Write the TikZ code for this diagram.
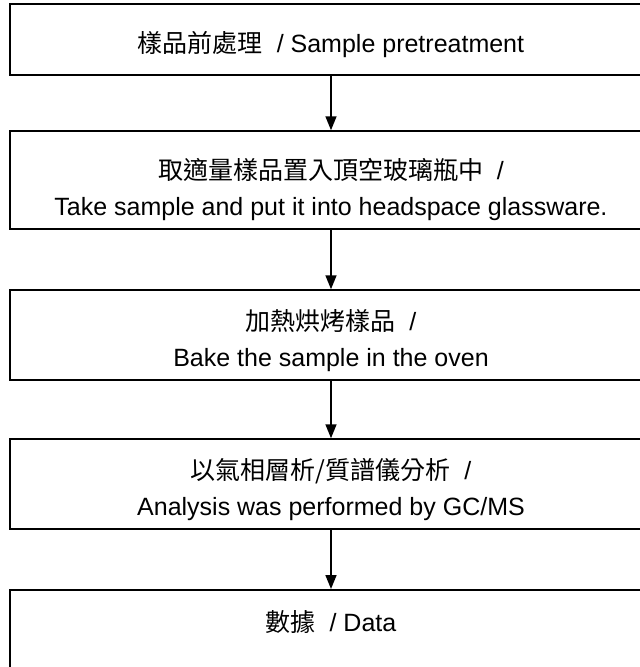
\documentclass[tikz,border=0pt]{standalone}
\usepackage{fontspec}
\setmainfont{Liberation Sans}
\newfontfamily\cjk{Noto Sans CJK TC}
\usetikzlibrary{arrows.meta,positioning}
\newcommand{\toppad}[1]{\rule{0pt}{#1pt}}

\begin{document}
\begin{tikzpicture}[x=1pt, y=-1pt, >={Triangle[length=14pt,width=11pt]},
  stepbox/.style={draw=black, line width=1.5pt, minimum width=642pt, align=center,
    font=\fontsize{25}{36}\selectfont},
  flow/.style={->, line width=1.6pt}]
   \path[use as bounding box, clip] (0,0) rectangle (640,667);

   %steps
   \node[stepbox, minimum height=71pt, text height=31pt, text depth=6pt] (pre) at (331,39.5) {{\cjk 樣品前處理}~~/ Sample pretreatment};
   \node[stepbox, minimum height=98pt] (vial) at (331,180) {\toppad{41}{\cjk 取適量樣品置入頂空玻璃瓶中}~~/\\Take sample and put it into headspace glassware.};
   \node[stepbox, minimum height=90pt] (bake) at (331,335) {\toppad{33}{\cjk 加熱烘烤樣品}~~/\\Bake the sample in the oven};
   \node[stepbox, minimum height=90pt] (gcms) at (331,484) {\toppad{33}{\cjk 以氣相層析/質譜儀分析}~~/\\Analysis was performed by GC/MS};
   \node[stepbox, anchor=north, inner ysep=26pt, text height=16pt, text depth=50pt] (data) at (331,589) {{\cjk 數據}~~/ Data};

   %arrows
   \path[flow]
     (pre) edge (vial)
     (vial) edge (bake)
     (bake) edge (gcms)
     (gcms) edge (data);
\end{tikzpicture}
\end{document}
